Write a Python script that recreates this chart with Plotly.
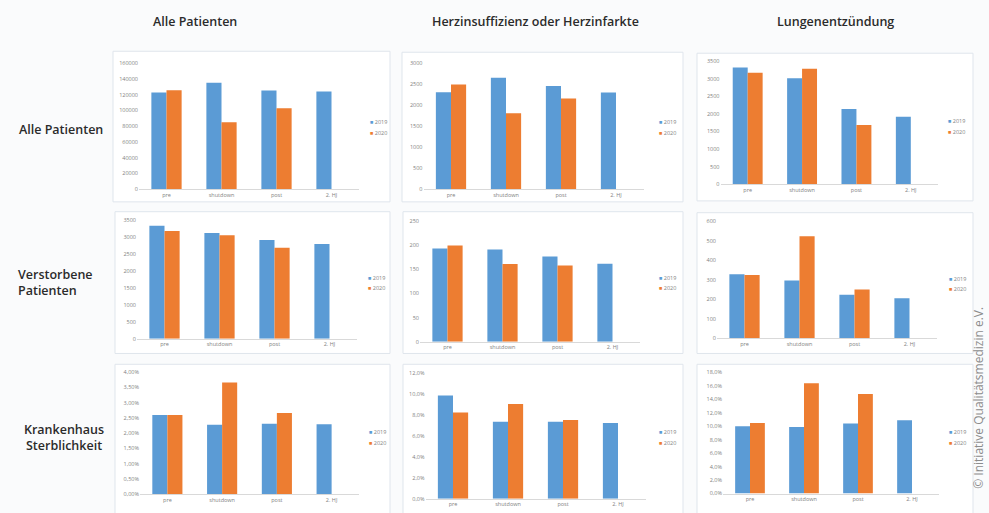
import plotly.graph_objects as go

W, H = 989, 513

categories = ["pre", "shutdown", "post", "2. HJ"]
series_names = ["2019", "2020"]
col_titles = ["Alle Patienten", "Herzinsuffizienz oder Herzinfarkte", "Lungenentzündung"]
row_titles = ["Alle Patienten", "Verstorbene<br>Patienten", "Krankenhaus<br>Sterblichkeit"]
credit = "© Initiative Qualitätsmedizin e.V."

# Row 1: Alle Patienten (Fallzahlen)
alle_all_2019 = [122700, 135100, 125200, 123900]
alle_all_2020 = [125600, 84800, 102700, None]
herz_all_2019 = [2305, 2648, 2453, 2297]
herz_all_2020 = [2492, 1807, 2157, None]
lunge_all_2019 = [3321, 3011, 2139, 1914]
lunge_all_2020 = [3171, 3283, 1679, None]
# Row 2: Verstorbene Patienten
alle_dead_2019 = [3317, 3104, 2901, 2785]
alle_dead_2020 = [3162, 3037, 2669, None]
herz_dead_2019 = [193.6, 191.6, 176.6, 161.7]
herz_dead_2020 = [199.7, 161.0, 158.3, None]
lunge_dead_2019 = [329, 297, 224, 206]
lunge_dead_2020 = [326, 525, 251, None]
# Row 3: Krankenhaus-Sterblichkeit
alle_rate_2019 = [0.0260, 0.0228, 0.0231, 0.0229]
alle_rate_2020 = [0.0260, 0.0366, 0.0266, None]
herz_rate_2019 = [0.0987, 0.0737, 0.0737, 0.0724]
herz_rate_2020 = [0.0824, 0.0906, 0.0752, None]
lunge_rate_2019 = [0.100, 0.099, 0.104, 0.109]
lunge_rate_2020 = [0.1049, 0.164, 0.148, None]

data = [
    [(alle_all_2019, alle_all_2020), (herz_all_2019, herz_all_2020), (lunge_all_2019, lunge_all_2020)],
    [(alle_dead_2019, alle_dead_2020), (herz_dead_2019, herz_dead_2020), (lunge_dead_2019, lunge_dead_2020)],
    [(alle_rate_2019, alle_rate_2020), (herz_rate_2019, herz_rate_2020), (lunge_rate_2019, lunge_rate_2020)],
]

# axis settings per panel: (ymax, dtick, tickformat)
axis_cfg = [
    [(160000, 20000, "d"), (3000, 500, "d"), (3500, 500, "d")],
    [(3500, 500, "d"), (250, 50, "d"), (600, 100, "d")],
    [(0.04, 0.005, ".2%"), (0.12, 0.02, ".1%"), (0.18, 0.02, ".1%")],
]

# plot areas in pixels: (x0, x1, ytop, ybottom)
plot_px = [
    [(139, 359, 60, 188), (423.5, 643.5, 60, 188), (720.5, 938, 58, 183)],
    [(137, 357, 219, 340), (420, 640, 220.7, 343), (717, 937, 221, 339.7)],
    [(140, 359, 374, 498), (425.5, 645.5, 375, 502.7), (723, 939, 374.3, 497.3)],
]
box_px = [
    [(113, 390, 48, 201), (402, 683, 49, 201), (697, 973, 50, 200)],
    [(115, 390, 211, 355), (403, 683, 211, 355), (697, 973, 212, 355)],
    [(115, 390, 366, 518), (403, 683, 366, 518), (697, 973, 366, 518)],
]
legend_px = [
    [(368, 120), (657, 120), (946, 119)],
    [(366, 278), (657, 278), (947, 279)],
    [(367, 435), (657, 435), (947, 435)],
]

colors = ["#5B9BD5", "#ED7D31"]
tick_font = dict(family="Open Sans", size=5.5, color="#7f7f7f")


def px_x(v):
    return v / W


def px_y(v):
    return 1 - v / H


fig = go.Figure()
layout = dict(
    width=W, height=H, margin=dict(l=0, r=0, t=0, b=0),
    paper_bgcolor="#fafbfc", plot_bgcolor="rgba(0,0,0,0)",
    barmode="group", bargap=0.45, bargroupgap=0.0,
    showlegend=False, separators=",.",
    font=dict(family="Open Sans", color="#333"),
)
shapes = []
annotations = []

idx = 0
for r in range(3):
    for c in range(3):
        idx += 1
        sfx = "" if idx == 1 else str(idx)
        x0, x1, yt, yb = plot_px[r][c]
        ymax, dt, fmt = axis_cfg[r][c]
        for s in range(2):
            fig.add_trace(go.Bar(
                x=categories, y=data[r][c][s], name=series_names[s],
                marker=dict(color=colors[s], line=dict(width=0)),
                xaxis="x" + sfx, yaxis="y" + sfx, showlegend=False,
            ))
        layout["xaxis" + sfx] = dict(
            domain=[px_x(x0), px_x(x1)], anchor="y" + sfx,
            showline=True, linecolor="#d9d9d9", linewidth=1,
            showgrid=False, ticks="", tickfont=tick_font, fixedrange=True,
        )
        layout["yaxis" + sfx] = dict(
            domain=[px_y(yb), px_y(yt)], anchor="x" + sfx,
            range=[0, ymax], dtick=dt, tick0=0, tickformat=fmt,
            showgrid=False, zeroline=False, showline=False, ticks="",
            tickfont=tick_font, fixedrange=True,
        )
        bx0, bx1, by0, by1 = box_px[r][c]
        shapes.append(dict(
            type="rect", xref="paper", yref="paper", layer="below",
            x0=px_x(bx0), x1=px_x(bx1), y0=px_y(by1), y1=px_y(by0),
            line=dict(color="#dfe5ec", width=1), fillcolor="#ffffff",
        ))
        lx, ly = legend_px[r][c]
        for s in range(2):
            annotations.append(dict(
                xref="paper", yref="paper", x=px_x(lx), y=px_y(ly + 11 * s),
                xanchor="left", yanchor="middle", showarrow=False,
                text=f"<span style='color:{colors[s]}'>■</span> {series_names[s]}",
                font=dict(family="Open Sans", size=5.5, color="#7f7f7f"),
            ))

col_x = [195, 535, 835]
for c, t in enumerate(col_titles):
    annotations.append(dict(
        xref="paper", yref="paper", x=px_x(col_x[c]), y=px_y(18),
        xanchor="center", yanchor="middle", showarrow=False, text=t,
        font=dict(family="Open Sans", size=12.5, color="#2b2b2b", weight=600),
    ))

row_pos = [(17, 127, "center"), (16, 283, "left"), (22, 440, "center")]
for r, t in enumerate(row_titles):
    x, y, al = row_pos[r]
    annotations.append(dict(
        xref="paper", yref="paper", x=px_x(x), y=px_y(y),
        xanchor="left", yanchor="middle", align=al, showarrow=False, text=t,
        font=dict(family="Open Sans", size=12.5, color="#2b2b2b", weight=600),
    ))

annotations.append(dict(
    xref="paper", yref="paper", x=px_x(979), y=px_y(400),
    xanchor="center", yanchor="middle", showarrow=False, text=credit,
    textangle=-90, font=dict(family="Open Sans", size=12, color="#8c8c8c"),
))

layout["shapes"] = shapes
layout["annotations"] = annotations
fig.update_layout(**layout)
fig.write_html("out.html")
